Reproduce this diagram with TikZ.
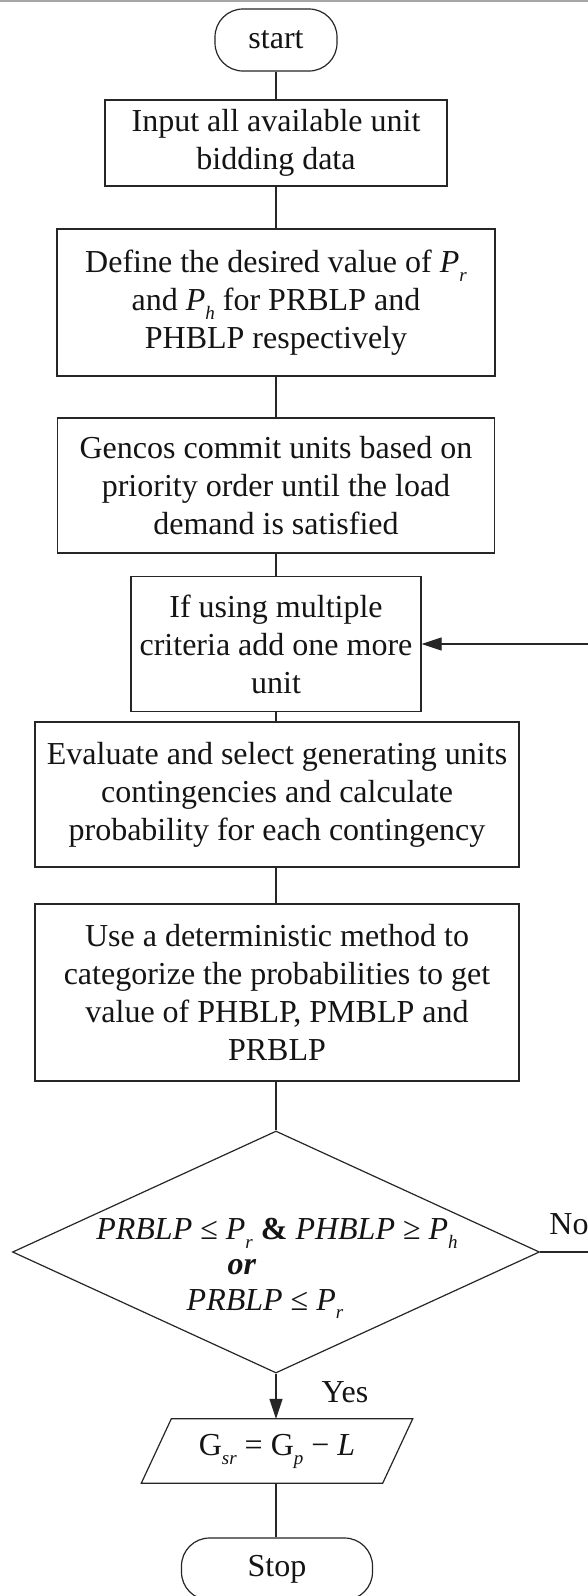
\documentclass[tikz,border=0pt]{standalone}
\usepackage{fontspec}
\setmainfont{Liberation Serif}
\usetikzlibrary{arrows.meta,shapes.geometric}
\newcommand{\Psub}[1]{\textit{P}\raisebox{-0.28em}{\fontsize{19}{19}\selectfont\textit{#1}}}
\newcommand{\sub}[1]{\raisebox{-0.28em}{\fontsize{19}{19}\selectfont\textit{#1}}}
\begin{document}
\begin{tikzpicture}[x=1pt,y=-1pt,
  every node/.style={font=\fontsize{32}{38}\selectfont, text=black!92},
  proc/.style={draw=black!85, line width=1.2pt, align=center, inner sep=0pt},
  term/.style={draw=black!85, line width=1.2pt, rounded corners=28pt, inner sep=0pt},
  conn/.style={draw=black!85, line width=1.2pt},
  arr/.style={conn, -{Triangle[length=20pt,width=13pt]}},
]
\useasboundingbox (0,0) rectangle (588,1596);
\clip (0,0) rectangle (588,1596);
\fill[white] (0,0) rectangle (588,1596);
\draw[black!35, line width=1.5pt] (0,1) -- (588,1);

\node[term, minimum width=122pt, minimum height=62pt] (start) at (276,40) {start};
\node[proc, minimum width=342pt, minimum height=86pt] (b1) at (276,143) {Input all available unit\\bidding data};
\node[proc, minimum width=438pt, minimum height=147pt] (b2) at (276,302.5) {Define the desired value of \Psub{r}\\and \Psub{h} for PRBLP and\\PHBLP respectively};
\node[proc, minimum width=437pt, minimum height=135pt] (b3) at (276,485.5) {Gencos commit units based on\\priority order until the load\\demand is satisfied};
\node[proc, minimum width=290pt, minimum height=135pt] (b4) at (276,644) {If using multiple\\criteria add one more\\unit};
\node[proc, minimum width=484pt, minimum height=145pt] (b5) at (277,794.5) {Evaluate and select generating units\\contingencies and calculate\\probability for each contingency};
\node[proc, minimum width=484pt, minimum height=177pt] (b6) at (277,992.5) {Use a deterministic method to\\categorize the probabilities to get\\value of PHBLP, PMBLP and\\PRBLP};

\node[draw=black!85, line width=1.2pt, shape=diamond, minimum width=527pt, minimum height=242pt, inner sep=0pt] (dec) at (276,1252) {};
\node (c1) at (277,1233) {\textit{PRBLP} ≤ \Psub{r} \textbf{\&} \textit{PHBLP} ≥ \Psub{h}};
\node (c2) at (242,1267) {\textbf{\textit{or}}};
\node (c3) at (265,1304) {\textit{PRBLP} ≤ \Psub{r}};

\node[inner sep=0pt, minimum width=241pt, minimum height=64pt] (out) at (277,1451) {G\sub{sr} = G\sub{p} − \textit{L}};
\draw[conn] ([xshift=15pt]out.north west) -- ([xshift=15pt]out.north east) -- ([xshift=-15pt]out.south east) -- ([xshift=-15pt]out.south west) -- cycle;

\node[term, minimum width=191pt, minimum height=62pt] (stop) at (277,1569) {Stop};

\node (yes) at (345,1392) {Yes};
\node (no) at (569,1224) {No};

\draw[conn] (start.south) -- (start.south |- b1.north);
\draw[conn] (b1.south) -- (b1.south |- b2.north);
\draw[conn] (b2.south) -- (b2.south |- b3.north);
\draw[conn] (b3.south) -- (b3.south |- b4.north);
\draw[conn] (b4.south) -- (b4.south |- b5.north);
\draw[conn] (b5.south -| b4.south) -- (b4.south |- b6.north);
\draw[conn] (b6.south -| dec.north) -- (dec.north);
\draw[arr] (dec.south) -- (dec.south |- out.north);
\draw[conn] (dec.south |- out.south) -- (dec.south |- stop.north);
\coordinate (r1) at (600,1252);
\coordinate (r2) at (600,644);
\draw[arr] (dec.east) -- (r1) -- (r2) -- (b4.east);
\end{tikzpicture}
\end{document}
